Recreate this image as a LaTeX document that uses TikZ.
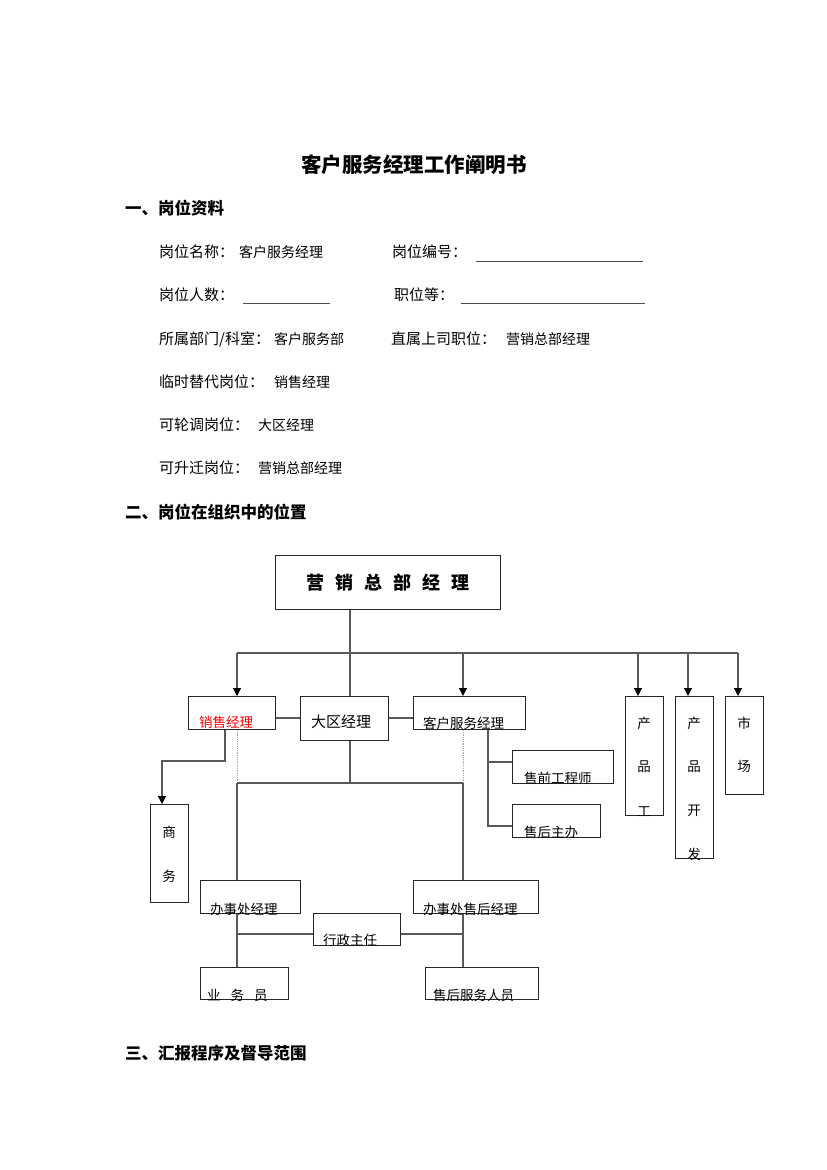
\documentclass[tikz,border=0pt]{standalone}
\usepackage{fontspec}
\newfontfamily\cjk{Noto Sans CJK SC}
\usetikzlibrary{arrows.meta}
\newcommand\fs[1]{\fontsize{#1}{#1}\selectfont}
\begin{document}
\begin{tikzpicture}[x=1pt,y=-1pt,
  t15/.style={font=\cjk\fs{15}, anchor=west, inner sep=0},
  t14/.style={font=\cjk\fs{14}, anchor=west, inner sep=0},
  hd/.style={font=\cjk\bfseries\fs{16.5}, anchor=west, inner sep=0},
  ul/.style={draw=black!70, line width=1pt},
  box/.style={draw=black!85, line width=1pt, inner sep=0, anchor=north west},
  lbl/.style={font=\cjk\fs{13.5}, inner sep=0, anchor=west},
  vch/.style={font=\cjk\fs{13.5}, inner sep=0},
  ln/.style={draw=black!65, line width=1.2pt},
  dotl/.style={draw=black!35, line width=0.8pt, densely dotted},
  arr/.style={ln, -{Triangle[width=8pt,length=8pt,fill=black,color=black]}}]
\useasboundingbox[fill=white] (0,0) rectangle (827,1170);

% ---- title and headings
\node[font=\cjk\bfseries\fs{20.5}, inner sep=0] (title) at (414,165) {客户服务经理工作阐明书};
\node[hd] (h1) at (125,208) {一、岗位资料};
\node[hd] (h2) at (125,512) {二、岗位在组织中的位置};
\node[hd] (h3) at (125,1053) {三、汇报程序及督导范围};

% ---- info lines
\node[t15] (a1) at (159,252) {岗位名称：};
\node[t14] (a2) at (239,252) {客户服务经理};
\node[t15] (a3) at (392,252) {岗位编号：};
\draw[ul] (476,261) -- (643,261);
\node[t15] (b1) at (159,295) {岗位人数：};
\draw[ul] (243,303) -- (330,303);
\node[t15] (b2) at (394,295) {职位等：};
\draw[ul] (461,303) -- (645,303);
\node[t15] (c1) at (159,339) {所属部门/科室：};
\node[t14] (c2) at (274,339) {客户服务部};
\node[t15] (c3) at (391,339) {直属上司职位：};
\node[t14] (c4) at (506,339) {营销总部经理};
\node[t15] (d1) at (159,382) {临时替代岗位：};
\node[t14] (d2) at (274,382) {销售经理};
\node[t15] (e1) at (159,425) {可轮调岗位：};
\node[t14] (e2) at (258,425) {大区经理};
\node[t15] (f1) at (159,468) {可升迁岗位：};
\node[t14] (f2) at (258,468) {营销总部经理};

% ---- org chart boxes
\node[box, minimum width=225, minimum height=54] (top) at (275,555) {};
\node[box, minimum width=87, minimum height=33] (xs) at (188,696) {};
\node[box, minimum width=88, minimum height=44] (dq) at (300,696) {};
\node[box, minimum width=112, minimum height=33] (kf) at (413,696) {};
\node[box, minimum width=101, minimum height=33] (sq) at (512,750) {};
\node[box, minimum width=88, minimum height=33] (sh) at (512,804) {};
\node[box, minimum width=38, minimum height=119] (cpg) at (625,696) {};
\node[box, minimum width=38, minimum height=162] (cpk) at (675,696) {};
\node[box, minimum width=38, minimum height=98] (sc) at (725,696) {};
\node[box, minimum width=38, minimum height=98] (sw) at (150,804) {};
\node[box, minimum width=100, minimum height=33] (bsc) at (200,880) {};
\node[box, minimum width=125, minimum height=33] (bsh) at (413,880) {};
\node[box, minimum width=87, minimum height=32] (xz) at (313,913) {};
\node[box, minimum width=88, minimum height=32] (ywy) at (200,967) {};
\node[box, minimum width=113, minimum height=32] (shfw) at (425,967) {};

% ---- labels
\node[font=\cjk\bfseries\fs{18}, inner sep=0] (topt) at (388,583)
  {营\hspace{11pt}销\hspace{11pt}总\hspace{11pt}部\hspace{11pt}经\hspace{11pt}理};
\node[lbl, font=\cjk\fs{15}] (dqt) at (311,722) {大区经理};
\begin{scope}\clip (xs.south west) rectangle (xs.north east);
  \node[lbl, text=red] (xst) at (199,722) {销售经理};\end{scope}
\begin{scope}\clip (kf.south west) rectangle (kf.north east);
  \node[lbl] (kft) at (423,723) {客户服务经理};\end{scope}
\begin{scope}\clip (sq.south west) rectangle (sq.north east);
  \node[lbl] (sqt) at (524,778) {售前工程师};\end{scope}
\begin{scope}\clip (sh.south west) rectangle (sh.north east);
  \node[lbl] (sht) at (524,832) {售后主办};\end{scope}
\begin{scope}\clip (bsc.south west) rectangle (bsc.north east);
  \node[lbl] (bsct) at (210,909) {办事处经理};\end{scope}
\begin{scope}\clip (bsh.south west) rectangle (bsh.north east);
  \node[lbl] (bsht) at (423,909) {办事处售后经理};\end{scope}
\begin{scope}\clip (xz.south west) rectangle (xz.north east);
  \node[lbl] (xzt) at (323,940) {行政主任};\end{scope}
\begin{scope}\clip (ywy.south west) rectangle (ywy.north east);
  \node[lbl] (ywyt) at (207,995) {业\hspace{10pt}务\hspace{10pt}员};\end{scope}
\begin{scope}\clip (shfw.south west) rectangle (shfw.north east);
  \node[lbl] (shfwt) at (433,995) {售后服务人员};\end{scope}
\begin{scope}\clip (cpg.south west) rectangle (cpg.north east);
  \node[vch] (cpg1) at (644,723) {产};
  \node[vch] (cpg2) at (644,767) {品};
  \node[vch] (cpg3) at (644,812) {工};\end{scope}
\begin{scope}\clip (cpk.south west) rectangle (cpk.north east);
  \node[vch] (cpk1) at (694,723) {产};
  \node[vch] (cpk2) at (694,767) {品};
  \node[vch] (cpk3) at (694,811) {开};
  \node[vch] (cpk4) at (694,854) {发};\end{scope}
\node[vch] (sc1) at (744,723) {市};
\node[vch] (sc2) at (744,766) {场};
\node[vch] (sw1) at (169,832) {商};
\node[vch] (sw2) at (169,876) {务};

% ---- connectors
\coordinate (sx) at (350,0);
\coordinate (b1) at (237,653);
\coordinate (b2) at (738,653);
\coordinate (ak) at (463,653);
\coordinate (ap1) at (638,653);
\coordinate (ap2) at (688,653);
\coordinate (hy) at (0,718);
\coordinate (c1) at (225,761);
\coordinate (c2) at (162,761);
\coordinate (bb1) at (237,783);
\coordinate (bb2) at (463,783);
\coordinate (ks) at (488,826);
\coordinate (ky) at (0,762);
\coordinate (ly) at (0,934);

\draw[ln] (sx |- top.south) -- (sx |- dq.north);
\draw[ln] (b1) -- (b2);
\draw[arr] (b1) -- (b1 |- xs.north);
\draw[arr] (ak) -- (ak |- kf.north);
\draw[arr] (ap1) -- (ap1 |- cpg.north);
\draw[arr] (ap2) -- (ap2 |- cpk.north);
\draw[arr] (b2) -- (b2 |- sc.north);
\draw[ln] (xs.east |- hy) -- (dq.west |- hy);
\draw[ln] (dq.east |- hy) -- (kf.west |- hy);
\draw[arr] (c1 |- xs.south) -- (c1) -- (c2) -- (c2 |- sw.north);
\draw[dotl] (bb1 |- xs.south) -- (bb1);
\draw[dotl] (bb2 |- kf.south) -- (bb2);
\draw[ln] (sx |- dq.south) -- (sx |- bb1);
\draw[ln] (bb1) -- (bb2);
\draw[ln] (bb1) -- (bb1 |- bsc.north);
\draw[ln] (bb2) -- (bb2 |- bsh.north);
\draw[ln] (ks |- kf.south) -- (ks) -- (ks -| sh.west);
\draw[ln] (ks |- ky) -- (sq.west |- ky);
\draw[ln] (bb1 |- bsc.south) -- (bb1 |- ywy.north);
\draw[ln] (bb2 |- bsh.south) -- (bb2 |- shfw.north);
\draw[ln] (bb1 |- ly) -- (xz.west |- ly);
\draw[ln] (xz.east |- ly) -- (bb2 |- ly);
\end{tikzpicture}
\end{document}
